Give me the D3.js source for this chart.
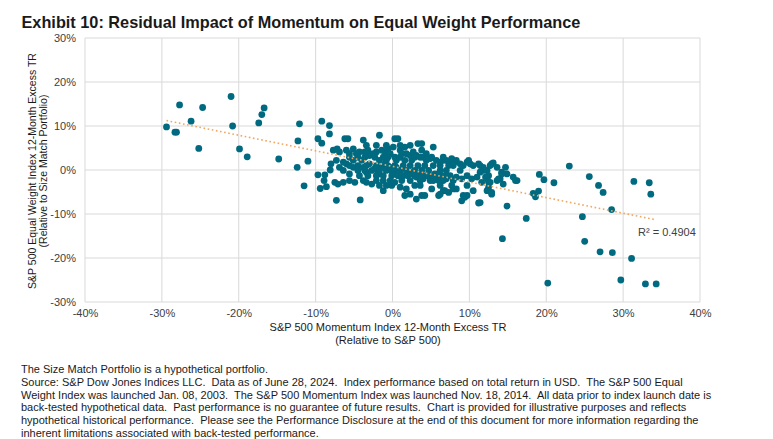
<!DOCTYPE html>
<html>
<head>
<meta charset="utf-8">
<script src="https://cdn.jsdelivr.net/npm/d3@7"></script>
<style>
  body { margin: 0; background: #fff; }
  text { font-family: "Liberation Sans", Arial, sans-serif; }
</style>
</head>
<body>
<div id="chart"></div>
<script>
// S&P 500 Momentum Index 12M excess TR (%), one value per month
var momentumExcess = [
  // left side outliers
  -29.4, -28.3, -28.1, -27.7, -26.2, -25.2, -24.7, -21.0, -20.8, -19.9, -18.9, -17.4, -17.0, -16.7,
  -14.8, -12.4, -12.3, -12.1, -11.5, -11.0, -9.2, -8.2, -8.2, -9.7, -9.2, -7.3, -4.2, -9.7, -8.8,
  -9.4, -8.6, -8.9, -8.1,
  // right side outliers
  23.0, 19.1, 19.7, 21.0, 25.6, 26.8, 27.4, 28.5, 24.7, 25.0, 27.0, 28.6, 31.1, 29.7, 32.9, 34.3,
  20.2, 31.4, 33.4, 33.6, 14.3, 17.4, 18.3, 18.6, 19.0, 14.9, 11.2,
  // cluster, upper part
  -7.7, -7.2, -6.9, -6.2, -5.8, -6.0, -5.6, -5.1, -4.7, -4.3, -3.8, -3.6, -3.2, -3.0, -2.5, -2.1,
  -1.7, -1.4, -1.0, -0.6, -0.3, 0.1, 0.3, 0.7, 1.0, 1.2, 1.6, 1.8, 2.3, 2.7, 3.1, 3.3, 3.8, 4.0,
  4.4, 4.9, 5.3, 5.7, 6.2, 6.6, 7.3, 7.7, 8.1, 8.8, 9.2, 9.7, 10.1, 10.5, 11.2, 11.8, 12.3, 12.9,
  13.6, 14.2, 14.7, 14.9, 15.7, 16.2, 3.8, 7.7, 9.9, 13.1, 12.7, 11.4,
  // cluster, middle
  -8.0, -7.3, -6.9, -6.4, -6.0, -5.6, -5.1, -4.5, -3.8, -3.4, -3.0, -2.7, -2.3, -1.9, -1.4, -1.0,
  -0.8, -0.3, 0.1, 0.5, 1.0, 1.4, 1.8, 2.3, 2.7, 3.1, 3.6, 4.0, 4.4, 5.1, 5.5, 6.0, 6.4, 7.0, 7.5,
  7.9, 8.3, 9.0, 9.7, 10.3, 11.0, 11.6, 12.3, 12.7, 13.6, 14.0, 14.4, 14.2, 16.0, 12.1, 12.5, 12.3,
  12.9, 13.8, 11.8, 11.4, 12.5,
  // cluster, lower part
  -7.5, -7.1, -6.4, -4.9, -3.4, -2.7, -2.1, -1.2, -0.1, 0.3, 1.0, 1.8, 2.3, 3.1, 3.8, 4.2, 5.1,
  6.0, 6.8, 7.3, 8.3, 9.0, 9.7, 10.5, 11.4, 1.6, 9.2, 7.9, 6.6, 6.2, 12.5, 12.9, 9.4,
  // dense core
  -3.4, -2.1, -0.8, 1.0, 2.3,
  -5.6, -4.5, -3.6, -2.3, -1.2, -0.6, 0.3, 1.0, 2.9, 3.6, 5.1, 6.6,
  -5.1, -4.0, -1.7, -0.8, 0.5, 1.6, 2.5, 4.4, 7.0, 8.3,
  -5.6, -3.4, -2.1, -0.6, 0.3, 1.4, 2.3, 3.3, 4.2, 5.3, 6.2, 7.3, 7.9,
  -6.4, -4.5, -3.6, -1.7, -0.1, 0.7, 2.9, 3.8, 4.7, 6.2, 7.0, 8.8,
  -4.3, -3.2, -2.1, -1.2, -0.1, 0.7, 2.0, 2.9, 3.8, 4.9, 5.7, 7.0,
  -5.6, -3.8, -1.2, -0.3, 1.2, 2.3, 3.6, 4.9, 5.3, 6.6,
  -1.7, -0.8, 2.9, 3.6, 6.2, 7.7, 9.7
];
// S&P 500 Equal Weight Index 12M excess TR vs Size Match Portfolio (%)
var equalWeightExcess = [
  9.8, 8.6, 8.6, 14.8, 11.1, 4.9, 14.2, 16.7, 10.0, 4.8, 3.0, 10.7, 12.6, 14.1,
  2.5, 0.6, 6.6, 10.5, -3.6, 2.0, 11.1, 10.1, 8.2, 7.1, 6.1, -6.9, -6.8, -1.1, -1.1,
  -4.2, -3.8, -2.4, 0.0,
  0.9, -1.0, -2.2, -2.9, -1.5, -3.5, -5.1, -9.0, -10.6, -16.2, -18.6, -18.8, -20.1, -25.0, -25.9, -25.9,
  -25.7, -2.6, -2.9, -5.5, -15.6, -11.0, -5.3, -6.1, -4.8, -8.2, -7.5,
  4.5, 4.8, 4.1, 7.1, 7.1, 4.5, 3.7, 4.8, 3.7, 4.1, 6.8, 4.1, 4.5, 3.3, 3.7, 4.1,
  7.9, 4.5, 4.1, 4.8, 3.7, 5.2, 7.1, 7.1, 4.5, 3.7, 5.2, 3.7, 3.3, 4.1, 3.3, 6.0, 4.5, 2.9,
  3.7, 2.6, 5.2, 2.2, 1.8, 2.2, 1.8, 2.3, 1.8, 1.4, 1.0, 1.8, 1.4, 1.0, 1.4, 0.6, -0.1, 1.4,
  0.6, -0.5, 0.6, -0.9, -1.6, -2.4, 6.0, 2.6, 2.2, 1.6, 1.0, 1.0,
  1.4, 2.2, 0.6, 1.8, 1.4, -0.9, 0.6, 1.0, 0.6, -0.5, 1.4, -0.1, 0.3, -0.9, 0.6, 1.4,
  -0.1, 0.6, -0.5, 0.6, -0.1, -1.3, -0.1, -0.9, -0.5, -1.6, -0.9, -2.0, -1.3, -1.6, -0.9, -2.4, -1.3, -2.0, -1.3,
  -2.4, -1.6, -2.0, -1.3, -2.0, -1.6, -2.8, -2.0, -2.8, -2.4, -2.0, -3.2, -0.9, -2.4, -1.6, -2.8, -4.7,
  -5.5, -2.0, -0.1, -0.5, -1.3,
  -2.8, -3.2, -2.8, -2.8, -2.8, -3.2, -2.4, -4.7, -3.5, -2.8, -3.9, -4.3, -5.5, -6.6, -5.8, -5.8, -4.3,
  -5.8, -4.7, -5.1, -4.3, -7.0, -5.8, -4.7, -7.4, -5.8, -5.8, -4.3, -4.7, -5.5, -3.9, -5.1, -6.2,
  5.6, 5.6, 5.6, 5.6, 5.6,
  2.9, 2.9, 2.9, 2.9, 2.9, 2.9, 2.9, 2.9, 2.9, 2.9, 2.9, 2.9,
  2.2, 2.2, 2.2, 2.2, 2.2, 2.2, 2.2, 2.2, 2.2, 2.2,
  1.0, 1.0, 1.0, 1.0, 1.0, 1.0, 1.0, 1.0, 1.0, 1.0, 1.0, 1.0, 1.0,
  -0.1, -0.1, -0.1, -0.1, -0.1, -0.1, -0.1, -0.1, -0.1, -0.1, -0.1, -0.1,
  -1.3, -1.3, -1.3, -1.3, -1.3, -1.3, -1.3, -1.3, -1.3, -1.3, -1.3, -1.3,
  -2.4, -2.4, -2.4, -2.4, -2.4, -2.4, -2.4, -2.4, -2.4, -2.4,
  -3.5, -3.5, -3.5, -3.5, -3.5, -3.5, -3.5
];
var xTicks = [-40, -30, -20, -10, 0, 10, 20, 30, 40];
var yTicks = [-30, -20, -10, 0, 10, 20, 30];
var rSquaredLabel = "R\u00b2 = 0.4904";
var footnotes = [
  "The Size Match Portfolio is a hypothetical portfolio.",
  "Source: S&P Dow Jones Indices LLC.  Data as of June 28, 2024.  Index performance based on total return in USD.  The S&P 500 Equal",
  "Weight Index was launched Jan. 08, 2003.  The S&P 500 Momentum Index was launched Nov. 18, 2014.  All data prior to index launch date is",
  "back-tested hypothetical data.  Past performance is no guarantee of future results.  Chart is provided for illustrative purposes and reflects",
  "hypothetical historical performance.  Please see the Performance Disclosure at the end of this document for more information regarding the",
  "inherent limitations associated with back-tested performance."
];

var width = 773, height = 439;
var plot = {left: 85, right: 700, top: 38, bottom: 302};

var svg = d3.select("#chart").append("svg")
    .attr("width", width)
    .attr("height", height);

var x = d3.scaleLinear().domain([-40, 40]).range([plot.left, plot.right]);
var y = d3.scaleLinear().domain([-30, 30]).range([plot.bottom, plot.top]);

// title
svg.append("text")
    .attr("x", 21.5)
    .attr("y", 28.3)
    .attr("font-size", "16.3px")
    .attr("font-weight", "bold")
    .attr("fill", "#1a1a1a")
    .text("Exhibit 10: Residual Impact of Momentum on Equal Weight Performance");

// grid
svg.append("g").selectAll("line.v")
    .data(xTicks).enter().append("line")
    .attr("x1", d => x(d)).attr("x2", d => x(d))
    .attr("y1", plot.top).attr("y2", plot.bottom)
    .attr("stroke", "#d9d9d9").attr("stroke-width", 1);
svg.append("g").selectAll("line.h")
    .data(yTicks).enter().append("line")
    .attr("x1", plot.left).attr("x2", plot.right)
    .attr("y1", d => y(d)).attr("y2", d => y(d))
    .attr("stroke", "#d9d9d9").attr("stroke-width", 1);

// axes (labels only, Excel style)
var xAxis = svg.append("g")
    .attr("transform", "translate(0," + (plot.bottom + 4) + ")")
    .call(d3.axisBottom(x).tickValues(xTicks).tickFormat(d => d + "%").tickSize(0));
var yAxis = svg.append("g")
    .attr("transform", "translate(" + (plot.left - 6) + ",0)")
    .call(d3.axisLeft(y).tickValues(yTicks).tickFormat(d => d + "%").tickSize(0));
[xAxis, yAxis].forEach(function(a) {
    a.select(".domain").remove();
    a.selectAll("text")
        .attr("font-family", "Liberation Sans, Arial, sans-serif")
        .attr("font-size", "11px")
        .attr("fill", "#404040");
});
xAxis.selectAll("text").attr("dy", "0.75em");

// points
var points = momentumExcess.map((d, i) => ({x: d, y: equalWeightExcess[i]}));
svg.append("g").selectAll("circle")
    .data(points).enter().append("circle")
    .attr("cx", d => x(d.x))
    .attr("cy", d => y(d.y))
    .attr("r", 3.4)
    .attr("fill", "#006a80");

// linear trendline fitted to the points
var mx = d3.mean(points, d => d.x), my = d3.mean(points, d => d.y);
var sxy = d3.sum(points, d => (d.x - mx) * (d.y - my));
var sxx = d3.sum(points, d => (d.x - mx) * (d.x - mx));
var slope = sxy / sxx, intercept = my - slope * mx;
var xExt = d3.extent(points, d => d.x);
svg.append("line")
    .attr("x1", x(xExt[0])).attr("y1", y(intercept + slope * xExt[0]))
    .attr("x2", x(xExt[1])).attr("y2", y(intercept + slope * xExt[1]))
    .attr("stroke", "#f2a65e")
    .attr("stroke-width", 1.6)
    .attr("stroke-dasharray", "1.6,2.6");

svg.append("text")
    .attr("x", 638)
    .attr("y", 236)
    .attr("font-size", "11px")
    .attr("fill", "#404040")
    .text(rSquaredLabel);

// axis titles
svg.append("text")
    .attr("x", 388).attr("y", 331)
    .attr("text-anchor", "middle")
    .attr("font-size", "11px").attr("fill", "#1a1a1a")
    .text("S&P 500 Momentum Index 12-Month Excess TR");
svg.append("text")
    .attr("x", 388).attr("y", 344)
    .attr("text-anchor", "middle")
    .attr("font-size", "11px").attr("fill", "#1a1a1a")
    .text("(Relative to S&P 500)");

svg.append("text")
    .attr("transform", "translate(35.5,171) rotate(-90)")
    .attr("text-anchor", "middle")
    .attr("font-size", "10.5px").attr("fill", "#1a1a1a")
    .text("S&P 500 Equal Weight Index 12-Month Excess TR");
svg.append("text")
    .attr("transform", "translate(47,171) rotate(-90)")
    .attr("text-anchor", "middle")
    .attr("font-size", "10.5px").attr("fill", "#1a1a1a")
    .text("(Relative to Size Match Portfolio)");

// footnotes
svg.append("g").selectAll("text")
    .data(footnotes).enter().append("text")
    .attr("x", 21)
    .attr("y", (d, i) => 373 + i * 12.8)
    .attr("font-size", "11px")
    .attr("fill", "#1a1a1a")
    .attr("xml:space", "preserve")
    .style("white-space", "pre")
    .text(d => d);
</script>
</body>
</html>
